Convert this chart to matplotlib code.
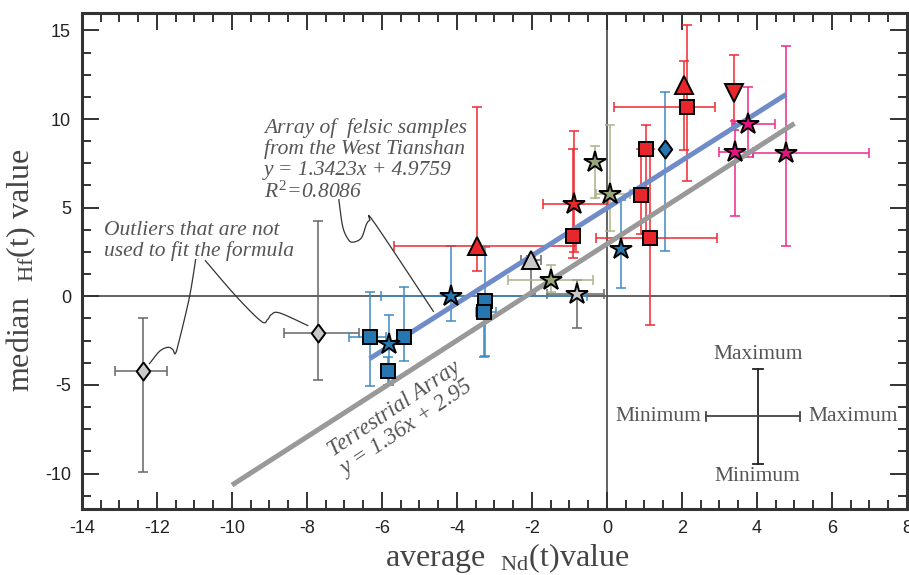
import numpy as np
import matplotlib
matplotlib.use("Agg")
import matplotlib.pyplot as plt
from matplotlib.ticker import MultipleLocator

plt.rcParams["mathtext.fontset"] = "custom"
plt.rcParams["mathtext.rm"] = "Liberation Serif"
plt.rcParams["mathtext.it"] = "Liberation Serif:italic"
plt.rcParams["axes.unicode_minus"] = False

nan = np.nan
# columns: eNd, eHf, eNd_min, eNd_max, eHf_min, eHf_max  (nan = no bar)
blue_squares = np.array([
    [-6.33, -2.31, -6.87, -5.90, -5.08, 0.23],
    [-5.42, -2.31, nan, nan, -3.67, 0.51],
    [-5.84, -4.19, nan, nan, -5.00, -3.40],
    [-3.25, -0.28, nan, nan, -3.38, 2.80],
    [-3.29, -0.90, -3.49, -2.95, -3.40, -0.50],
])
blue_stars = np.array([
    [-4.17, 0.04, -6.02, -0.52, -1.37, 2.82],
    [-5.80, -2.72, nan, nan, -5.02, -1.03],
    [0.38, 2.67, nan, nan, 0.47, 5.45],
])
blue_diamonds = np.array([
    [1.56, 8.31, nan, nan, 2.54, 11.50],
])
red_squares = np.array([
    [-0.91, 3.38, nan, nan, 2.16, 8.30],
    [1.03, 8.31, nan, nan, 3.53, 9.65],
    [0.91, 5.70, nan, nan, 3.53, 8.30],
    [1.15, 3.27, -0.29, 2.94, -1.62, 8.30],
    [2.13, 10.66, 0.20, 2.87, 6.53, 15.30],
])
red_stars = np.array([
    [-0.89, 5.21, -1.71, 0.02, 2.50, 9.35],
])
red_triangles = np.array([
    [-3.46, 2.82, -5.67, -0.82, 1.41, 10.66],
    [2.05, 11.94, nan, nan, 8.27, 13.25],
])
red_down_triangles = np.array([
    [3.38, 11.47, nan, nan, 9.40, 13.63],
])
pink_stars = np.array([
    [3.77, 9.72, 3.33, 4.49, 7.86, 11.79],
    [3.42, 8.12, 2.98, 3.89, 4.55, 9.87],
    [4.78, 8.09, 3.90, 7.00, 2.82, 14.14],
])
olive_stars = np.array([
    [-1.49, 0.90, -2.64, -0.36, 0.23, 1.75],
    [-0.31, 7.56, nan, nan, 5.55, 8.46],
    [0.07, 5.79, -0.29, 0.62, 3.70, 9.65],
])
gray_triangles = np.array([
    [-2.02, 2.07, -2.29, -1.75, 0.15, 2.30],
])
gray_stars = np.array([
    [-0.80, 0.13, -1.60, -0.07, -1.78, 0.94],
])
outlier_diamonds = np.array([
    [-12.38, -4.19, -13.13, -11.73, -9.93, -1.22],
    [-7.71, -2.07, -8.62, -6.62, -4.74, 4.23],
])

# regression through felsic samples and the terrestrial array
felsic_slope, felsic_icpt, felsic_r2 = 1.3423, 4.9759, 0.8086
felsic_xrange = [-6.33, 4.78]
terr_slope, terr_icpt = 1.36, 2.95
terr_xrange = [-10.0, 5.0]

serif = "Liberation Serif"
sans = "Liberation Sans"
txt_gray = "#555555"

fig = plt.figure(figsize=(9.09, 5.75), dpi=100)
ax = fig.add_axes([0.0902, 0.1148, 0.9076, 0.8632])
ax.set_xlim(-14, 8)
ax.set_ylim(-12, 16)

# zero lines
ax.axhline(0, color="#555555", lw=1.3, zorder=1)
ax.axvline(0, color="#555555", lw=1.3, zorder=1)

diamond = [(0, 1), (0.75, 0), (0, -1), (-0.75, 0), (0, 1)]


def draw(data, marker, face, ecolor, ms):
    for x, y, x0, x1, y0, y1 in data:
        if not np.isnan(y0):
            ax.errorbar([x], [y], yerr=[[y - y0], [y1 - y]], fmt="none",
                        ecolor=ecolor, elinewidth=1.1, capsize=3.5,
                        capthick=1.1, zorder=2)
        if not np.isnan(x0):
            ax.errorbar([x], [y], xerr=[[x - x0], [x1 - x]], fmt="none",
                        ecolor=ecolor, elinewidth=1.1, capsize=3.5,
                        capthick=1.1, zorder=2)
    ax.plot(data[:, 0], data[:, 1], ls="none", marker=marker, ms=ms,
            mfc=face, mec="black", mew=1.4, zorder=6)


# fitted lines
fx = np.array(felsic_xrange)
ax.plot(fx, felsic_slope * fx + felsic_icpt, color="#6f8cc9", lw=3.6,
        solid_capstyle="butt", zorder=4)
tx = np.array(terr_xrange)
ax.plot(tx, terr_slope * tx + terr_icpt, color="#999999", lw=3.6,
        solid_capstyle="butt", zorder=3)

blue_f, blue_e = "#2677b0", "#3d8cc2"
red_f, red_e = "#e8262b", "#ee2a2f"
pink_f, pink_e = "#e2147f", "#ec2a8d"
olive_f, olive_e = "#98a37b", "#a9b38c"
gray_f, gray_e = "#c9c9c9", "#666666"

draw(outlier_diamonds, diamond, gray_f, gray_e, 13)
draw(gray_stars, "*", gray_f, gray_e, 16)
draw(gray_triangles, "^", gray_f, gray_e, 13)
draw(olive_stars, "*", olive_f, olive_e, 16)
draw(blue_squares, "s", blue_f, blue_e, 9.5)
draw(blue_stars, "*", blue_f, blue_e, 16)
draw(blue_diamonds, diamond, blue_f, blue_e, 13)
draw(red_squares, "s", red_f, red_e, 9.5)
draw(red_stars, "*", red_f, red_e, 16)
draw(red_triangles, "^", red_f, red_e, 13)
draw(red_down_triangles, "v", red_f, red_e, 13)
draw(pink_stars, "*", pink_f, pink_e, 16)


def catmull(pts, n=20):
    pts = np.asarray(pts, float)
    p = np.vstack([pts[0], pts, pts[-1]])
    out = []
    for i in range(1, len(p) - 2):
        p0, p1, p2, p3 = p[i - 1], p[i], p[i + 1], p[i + 2]
        for t in np.linspace(0, 1, n, endpoint=False):
            t2, t3 = t * t, t * t * t
            out.append(0.5 * ((2 * p1) + (-p0 + p2) * t
                              + (2 * p0 - 5 * p1 + 4 * p2 - p3) * t2
                              + (-p0 + 3 * p1 - 3 * p2 + p3) * t3))
    out.append(p[-2])
    return np.array(out)


leaders = [
    [(-7.15, 5.45), (-7.05, 3.95), (-6.91, 3.24), (-6.78, 3.05), (-6.55, 3.29),
     (-6.42, 4.04), (-6.33, 4.27), (-6.20, 4.14), (-4.63, -0.85)],
    [(-10.97, 2.07), (-11.13, 0.0), (-11.40, -2.44), (-11.51, -3.23),
     (-11.58, -3.0), (-11.71, -2.88), (-11.93, -3.10), (-12.20, -3.80)],
    [(-10.71, 2.01), (-9.89, 0.0), (-9.22, -1.41), (-9.05, -1.31),
     (-8.95, -1.03), (-8.73, -0.94), (-7.98, -1.65)],
]
for pts in leaders:
    c = catmull(pts)
    ax.plot(c[:, 0], c[:, 1], color="#333333", lw=0.9, zorder=2)

# annotations
ax.text(-9.15, 10.05,
        "Array of  felsic samples\nfrom the West Tianshan\n"
        f"y = {felsic_slope}x + {felsic_icpt}\n$R^2$=" + f"{felsic_r2}",
        family=serif, style="italic", fontsize=15.5, color=txt_gray,
        ha="left", va="top", linespacing=1.1)
ax.text(-13.4, 4.25, "Outliers that are not\nused to fit the formula",
        family=serif, style="italic", fontsize=15.5, color=txt_gray,
        ha="left", va="top", linespacing=1.07)
ax.text(-5.5, -6.9, f"Terrestrial Array\ny = {terr_slope}x + {terr_icpt}",
        family=serif, style="italic", fontsize=16.5, color=txt_gray,
        ha="center", va="center", rotation=34, rotation_mode="anchor",
        linespacing=1.1)

# min / max key
kx, ky = 4.02, -6.77
ax.plot([kx, kx], [-9.44, -4.10], color="#222222", lw=1.3, zorder=2)
ax.plot([2.63, 5.15], [ky, ky], color="#444444", lw=1.3, zorder=2)
for v in (-9.44, -4.10):
    ax.plot([kx - 0.13, kx + 0.13], [v, v], color="#222222", lw=1.3)
for v in (2.63, 5.15):
    ax.plot([v, v], [ky - 0.25, ky + 0.25], color="#444444", lw=1.3)
kw = dict(family=serif, fontsize=15.5, color=txt_gray)
ax.text(kx, -3.3, "Maximum", ha="center", va="center", **kw)
ax.text(kx, -10.15, "Minimum", ha="center", va="center", **kw)
ax.text(2.51, ky, "Minimum", ha="right", va="center", **kw)
ax.text(5.38, ky, "Maximum", ha="left", va="center", **kw)

# axes styling
for s in ax.spines.values():
    s.set_linewidth(2.2)
    s.set_color("#333333")
ax.xaxis.set_major_locator(MultipleLocator(2))
ax.xaxis.set_minor_locator(MultipleLocator(0.5))
ax.yaxis.set_major_locator(MultipleLocator(5))
ax.yaxis.set_minor_locator(MultipleLocator(1.25))
ax.tick_params(which="both", direction="in", top=True, right=True,
               color="#333333", width=1.4)
ax.tick_params(which="major", length=12, pad=8)
ax.tick_params(which="minor", length=6.5)
for lab in ax.get_xticklabels() + ax.get_yticklabels():
    lab.set_family(sans)
    lab.set_fontsize(13)
    lab.set_color("#222222")

ax.set_xlabel(r"average  ${}_{\mathrm{Nd}}$(t)value", family=serif,
              fontsize=23, color="#444444")
ax.set_ylabel(r"median  ${}_{\mathrm{Hf}}$(t) value", family=serif,
              fontsize=23, color="#444444")
ax.xaxis.set_label_coords(0.515, -0.064)
ax.yaxis.set_label_coords(-0.053, 0.48)

fig.savefig("out.png", dpi=100)
